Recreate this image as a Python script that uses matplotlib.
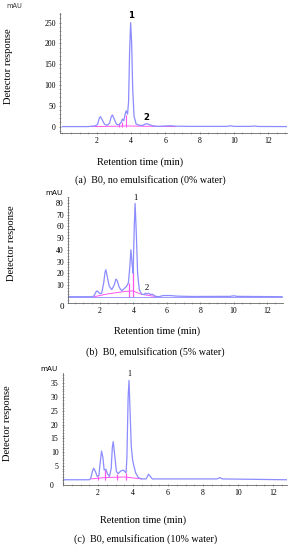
import matplotlib.pyplot as plt
from matplotlib.ticker import MultipleLocator

# chromatogram traces (time in min, response in mAU)
t_a = [0, 1.5, 1.7, 1.9, 2.05, 2.15, 2.22, 2.3, 2.45, 2.6, 2.75, 2.85, 2.92, 3.0, 3.15, 3.3,
       3.42, 3.5, 3.58, 3.65, 3.72, 3.8, 3.86, 3.92, 3.98, 4.04, 4.1, 4.18, 4.3, 4.5, 4.7,
       4.82, 4.92, 5.05, 5.3, 5.6, 6.0, 6.3, 6.6, 7.5, 9.6, 9.8, 10.0, 11.0, 11.2, 11.4, 13.1]
y_a = [0, 0, 1, 1.5, 5, 20, 24, 18, 6, 3, 8, 24, 28, 20, 6, 4,
       10, 18, 14, 28, 38, 30, 60, 180, 250, 200, 90, 25, 6, 3, 3,
       6, 7, 5, 1.5, 0.5, 1.5, 2, 1, 0.5, 0.5, 2, 0.5, 0.5, 1.5, 0.3, 0]
base_t_a = [1.7, 2.5, 3.3, 3.8, 4.5, 5.5, 6.6]
base_y_a = [0, 0.5, 1, 1.5, 1, 0.5, 0]
drop_t_a = [3.3, 3.46, 3.72]
drop_h_a = [8, 12, 28]

t_b = [0, 1.55, 1.65, 1.75, 1.82, 1.9, 2.0, 2.1, 2.22, 2.3, 2.35, 2.42, 2.55, 2.7, 2.85,
       2.95, 3.02, 3.15, 3.3, 3.45, 3.6, 3.7, 3.78, 3.85, 3.92, 3.98, 4.05, 4.1, 4.17, 4.25,
       4.35, 4.5, 4.65, 4.72, 4.8, 4.9, 5.0, 5.15, 5.3, 5.5, 5.8, 6.2, 6.6, 7.5, 9.8, 10.0,
       10.2, 12.9]
y_b = [0, 0, 1, 4, 5, 4, 2.5, 3, 12, 21, 23, 18, 9, 6, 10,
       15, 14, 8, 5, 7, 9, 12, 25, 40, 28, 20, 60, 79.5, 55, 20,
       6, 2, 2, 3, 2.2, 3, 2, 2, 0.5, 0, 1, 1, 0.5, 0.2, 0.3, 0.8,
       0.3, 0]
base_t_b = [1.65, 2.5, 3.0, 3.5, 3.95, 4.5, 5.4]
base_y_b = [0, 2.5, 3.5, 4.5, 5, 2, 0]
drop_t_b = [3.72, 3.95]
drop_h_b = [12, 21]

t_c = [0, 1.5, 1.58, 1.68, 1.75, 1.85, 1.95, 2.05, 2.12, 2.2, 2.28, 2.35, 2.45, 2.55, 2.65,
       2.75, 2.82, 2.87, 2.95, 3.05, 3.15, 3.3, 3.45, 3.6, 3.65, 3.72, 3.77, 3.83, 3.9, 3.98,
       4.05, 4.15, 4.3, 4.5, 4.75, 4.88, 4.95, 5.1, 8.8, 8.95, 9.1, 12.8]
y_c = [0, 0, 0.5, 3, 4.2, 3, 1.2, 1.5, 6, 10.4, 8, 3.5, 3.8, 2, 1.2,
       4, 12, 13.8, 9, 3, 2.2, 3.2, 3.5, 2.5, 8, 30, 36, 25, 12, 7,
       5, 2.5, 0.8, 0.3, 0.3, 2, 1.5, 0.3, 0.3, 0.8, 0.3, 0]
base_t_c = [1.6, 2.4, 3.5, 4.5]
base_y_c = [0.3, 0.8, 1, 0.3]
drop_t_c = [1.98, 2.4, 3.1, 3.6]
drop_h_c = [1.2, 3.6, 2.2, 2.3]

x_ticks = [2, 4, 6, 8, 10, 12]

plt.rcParams['font.family'] = ['Liberation Serif', 'DejaVu Serif']
fig = plt.figure(figsize=(2.92, 5.5), dpi=100)
W, H = 292.0, 550.0

trace_col = '#8c8cff'
int_col = '#ff55ee'


def make_ax(left, top, right, bottom, xlim, ylim, yticks):
    ax = fig.add_axes([left / W, 1 - bottom / H, (right - left) / W, (bottom - top) / H])
    ax.set_xlim(*xlim)
    ax.set_ylim(*ylim)
    for s in ['top', 'right']:
        ax.spines[s].set_visible(False)
    for s in ['left', 'bottom']:
        ax.spines[s].set_color('#666666')
        ax.spines[s].set_linewidth(0.6)
    ax.set_xticks(x_ticks)
    ax.set_yticks(yticks)
    ax.xaxis.set_minor_locator(MultipleLocator(0.5))
    ax.tick_params(axis='both', which='major', labelsize=5.6, length=2, width=0.5,
                   color='#666666', direction='inout', pad=2)
    ax.tick_params(axis='both', which='minor', length=1.2, width=0.4, color='#888888',
                   direction='inout')
    return ax


# panel (a)
ax = make_ax(60, 13, 287, 133, (-0.14, 13.1), (-15.4, 273), [0, 50, 100, 150, 200, 250])
ax.yaxis.set_minor_locator(MultipleLocator(10))
ax.plot(base_t_a, base_y_a, color=int_col, lw=0.7)
ax.vlines(drop_t_a, 0, drop_h_a, color=int_col, lw=0.8)
ax.plot(t_a, y_a, color=trace_col, lw=0.9)
ax.text(3.98, 255, '1', fontsize=6.2, fontweight='bold', family='DejaVu Sans', ha='center', va='bottom')
ax.text(4.92, 12, '2', fontsize=6.2, fontweight='bold', family='DejaVu Sans', ha='center', va='bottom')
fig.text(14.5 / W, 1 - 6 / H, 'mAU', fontsize=4.8, family='DejaVu Sans', ha='center', va='center',
         color='#333333')
fig.text(140 / W, 1 - 162 / H, 'Retention time (min)', fontsize=7.4, ha='center', va='center')
fig.text(9 / W, 1 - 66 / H, 'Detector response', fontsize=7.6, rotation=90, ha='center', va='center')
fig.text(150 / W, 1 - 180 / H, '(a)  B0, no emulsification (0% water)', fontsize=7.2,
         ha='center', va='center')

# panel (b)
ax = make_ax(68, 197, 283, 302.7, (0.08, 12.96), (-5.1, 85), [10, 20, 30, 40, 50, 60, 70, 80])
ax.yaxis.set_minor_locator(MultipleLocator(2.5))
ax.plot(base_t_b, base_y_b, color=int_col, lw=0.7)
ax.vlines(drop_t_b, 0, drop_h_b, color=int_col, lw=0.9)
ax.plot(t_b, y_b, color=trace_col, lw=0.9)
ax.axhline(0, color=trace_col, lw=0.6)
ax.text(4.1, 81, '1', fontsize=6.2, ha='center', va='bottom')
ax.text(4.8, 4, '2', fontsize=6.2, ha='center', va='bottom')
fig.text(62 / W, 1 - 307 / H, '0', fontsize=6.5, ha='center', va='center')
fig.text(54 / W, 1 - 193 / H, 'mAU', fontsize=5.2, family='DejaVu Sans', ha='center', va='center')
fig.text(157 / W, 1 - 331 / H, 'Retention time (min)', fontsize=7.4, ha='center', va='center')
fig.text(12 / W, 1 - 243 / H, 'Detector response', fontsize=7.6, rotation=90, ha='center', va='center')
fig.text(155 / W, 1 - 352 / H, '(b)  B0, emulsification (5% water)', fontsize=7.2,
         ha='center', va='center')

# panel (c)
ax = make_ax(62.7, 373, 287, 485, (-0.02, 12.8), (-1.9, 38.7), [5, 10, 15, 20, 25, 30, 35])
ax.yaxis.set_minor_locator(MultipleLocator(1))
ax.plot(base_t_c, base_y_c, color=int_col, lw=0.7)
ax.vlines(drop_t_c, 0, drop_h_c, color=int_col, lw=0.9)
ax.plot(t_c, y_c, color=trace_col, lw=0.9)
ax.text(3.77, 37, '1', fontsize=5.8, ha='center', va='bottom')
fig.text(52 / W, 1 - 486 / H, '0', fontsize=5.6, ha='center', va='center')
fig.text(49 / W, 1 - 369 / H, 'mAU', fontsize=5.2, family='DejaVu Sans', ha='center', va='center')
fig.text(143 / W, 1 - 520 / H, 'Retention time (min)', fontsize=7.4, ha='center', va='center')
fig.text(8 / W, 1 - 423 / H, 'Detector response', fontsize=7.6, rotation=90, ha='center', va='center')
fig.text(146 / W, 1 - 539 / H, '(c)  B0, emulsification (10% water)', fontsize=7.2,
         ha='center', va='center')

fig.savefig('out.png', dpi=100, facecolor='white')
